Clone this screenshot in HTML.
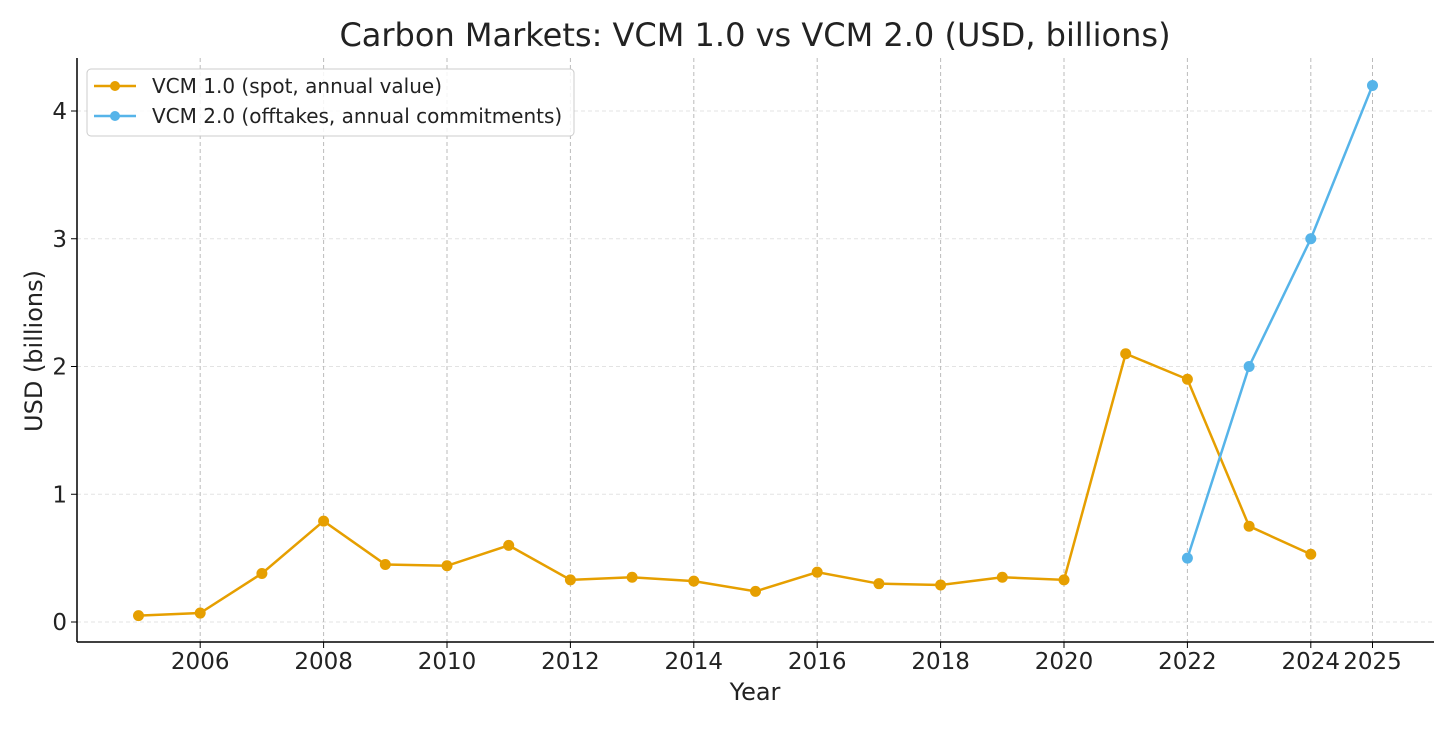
<!DOCTYPE html>
<html><head><meta charset="utf-8"><style>
body{margin:0;background:#fff;width:1456px;height:728px;overflow:hidden}
svg text{font-family:"DejaVu Sans","Liberation Sans",sans-serif;fill:#222}
</style></head><body>
<svg id="chart" width="1456" height="728" xmlns="http://www.w3.org/2000/svg">
<text x="755" y="46" font-size="32" text-anchor="middle">Carbon Markets: VCM 1.0 vs VCM 2.0 (USD, billions)</text>
<g id="grid"></g><g id="axes"></g><g id="series"></g>
<text x="755" y="700" font-size="24" text-anchor="middle">Year</text>
<text transform="translate(42,351) rotate(-90)" font-size="24" text-anchor="middle">USD (billions)</text>
<g>
<rect x="87" y="69" width="487" height="67" rx="4" fill="#fff" fill-opacity="0.85" stroke="#ccc"/>
<line x1="94" y1="86" x2="136" y2="86" stroke="#E69F00" stroke-width="2.5"/><circle cx="115" cy="86" r="5" fill="#E69F00"/>
<text x="152" y="93" font-size="20">VCM 1.0 (spot, annual value)</text>
<line x1="94" y1="116" x2="136" y2="116" stroke="#56B4E9" stroke-width="2.5"/><circle cx="115" cy="116" r="5" fill="#56B4E9"/>
<text x="152" y="123" font-size="20">VCM 2.0 (offtakes, annual commitments)</text>
</g>
</svg>
<script>
const years1=[2005,2006,2007,2008,2009,2010,2011,2012,2013,2014,2015,2016,2017,2018,2019,2020,2021,2022,2023,2024];
const vcm1=[0.05,0.07,0.38,0.79,0.45,0.44,0.60,0.33,0.35,0.32,0.24,0.39,0.30,0.29,0.35,0.33,2.10,1.90,0.75,0.53];
const years2=[2022,2023,2024,2025];
const vcm2=[0.5,2.0,3.0,4.2];
const xTicks=[2006,2008,2010,2012,2014,2016,2018,2020,2022,2024,2025];
const yTicks=[0,1,2,3,4];
const X=v=>138.5+(v-2005)*61.7;
const Y=v=>622-v*127.75;
const NS='http://www.w3.org/2000/svg';
function mk(p,t,a){const e=document.createElementNS(NS,t);for(const k in a)e.setAttribute(k,a[k]);p.appendChild(e);return e;}
const grid=document.getElementById('grid'),axes=document.getElementById('axes'),ser=document.getElementById('series');
const L=77,R=1434,T=58,B=642;
yTicks.forEach(v=>{const g=mk(grid,'line',{x1:L,x2:R,y1:Y(v),y2:Y(v),stroke:'#e3e3e3','stroke-dasharray':'4,3'});

mk(axes,'line',{x1:L-6,x2:L,y1:Y(v),y2:Y(v),stroke:'#000'});
const t=mk(axes,'text',{x:L-10,y:Y(v)+8,'font-size':23,'text-anchor':'end'});t.textContent=v;
});
xTicks.forEach(v=>{const g=mk(grid,'line',{x1:X(v),x2:X(v),y1:T,y2:B,stroke:'#bbb','stroke-dasharray':'4,3'});

mk(axes,'line',{x1:X(v),x2:X(v),y1:B,y2:B+6,stroke:'#000'});
const t=mk(axes,'text',{x:X(v),y:B+27,'font-size':23,'text-anchor':'middle'});t.textContent=v;
});
mk(axes,'line',{x1:L,x2:L,y1:T,y2:B,stroke:'#000','stroke-width':1.5});
mk(axes,'line',{x1:L,x2:R,y1:B,y2:B,stroke:'#000','stroke-width':1.5});
function draw(xs,ys,c,name){const p=mk(ser,'polyline',{points:xs.map((x,i)=>X(x)+','+Y(ys[i])).join(' '),fill:'none',stroke:c,'stroke-width':2.5});

xs.forEach((x,i)=>{const d=mk(ser,'circle',{cx:X(x),cy:Y(ys[i]),r:5.5,fill:c});
});}
draw(years1,vcm1,'#E69F00','vcm1');
draw(years2,vcm2,'#56B4E9','vcm2');
</script>
</body></html>
